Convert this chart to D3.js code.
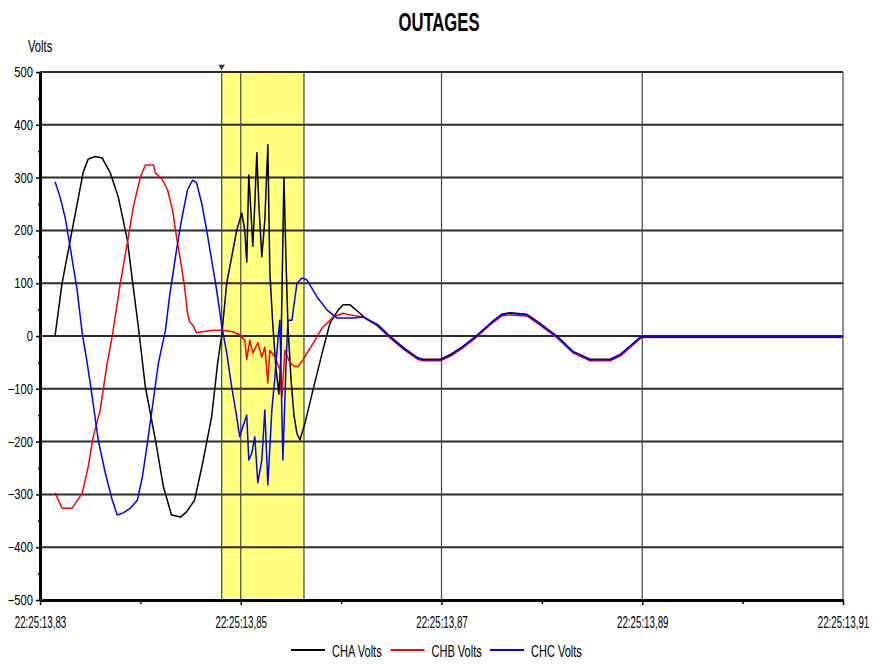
<!DOCTYPE html>
<html>
<head>
<meta charset="utf-8">
<script src="https://cdn.jsdelivr.net/npm/d3@7"></script>
<style>
  body { margin: 0; background: #fff; }
  text { font-family: "Liberation Sans", Arial, sans-serif; fill: #000; }
</style>
</head>
<body>
<script>
// time in ms after 22:25:13,83
const xTicks = [0, 20, 40, 60, 80];
const xMinorTicks = [10, 30, 50, 70];
const xTickLabels = ["22:25:13,83", "22:25:13,85", "22:25:13,87", "22:25:13,89", "22:25:13,91"];
const yTicks = [-500, -400, -300, -200, -100, 0, 100, 200, 300, 400, 500];
const yMinorTicks = [-450, -350, -250, -150, -50, 50, 150, 250, 350, 450];

const seriesNames = ["CHA Volts", "CHB Volts", "CHC Volts"];
const seriesColors = ["#000000", "#ff0000", "#0000ff"];

// outage window (yellow band) and marker
const bandStart = 18.1;
const bandEnd = 26.3;

const chaTime = [1.5, 2.2, 3.2, 4.3, 4.8, 5.5, 6.2, 7.0, 7.8, 8.7, 9.2, 9.8, 10.5, 11.5, 12.3, 13.1, 14.0, 14.6, 15.4, 16.2,
  17.1, 17.7, 18.1, 18.6, 19.1, 19.6, 20.1, 20.4, 20.6, 20.8, 21.0, 21.2, 21.4, 21.6, 21.8, 22.1, 22.4, 22.7, 22.9, 23.2,
  23.5, 23.8, 24.0, 24.3, 24.5, 24.7, 25.0, 25.3, 25.6, 25.9, 26.4, 27.2, 28.1, 28.9, 29.7, 30.2, 30.9, 31.7, 32.4];
const chaVolts = [0, 100, 200, 310, 335, 340, 337, 309, 263, 182, 106, 17, -97, -197, -286, -339, -343, -333, -311, -241,
  -153, -51, 0, 100, 150, 200, 233, 200, 140, 305, 240, 170, 250, 347, 250, 150, 220, 362, 120, 20,
  -60, -110, -40, 300, 150, 20, -80, -150, -185, -197, -165, -102, -33, 25, 49, 59, 59, 46, 34];

const chbTime = [1.5, 2.2, 3.2, 4.2, 4.8, 5.3, 6.0, 6.7, 7.2, 8.0, 8.7, 9.3, 10.0, 10.5, 11.3, 11.5, 12.2, 12.7, 13.2, 13.6,
  14.1, 14.4, 14.7, 14.9, 15.2, 15.6, 16.2, 17.2, 18.2, 19.2, 19.9, 20.4, 20.6, 20.9, 21.2, 21.7, 22.1, 22.4, 22.7, 22.9,
  23.4, 23.9, 24.1, 24.4, 24.9, 25.4, 25.7, 26.2, 27.2, 28.1, 29.2, 30.2, 30.9, 32.2];
const chbVolts = [-297, -326, -326, -298, -248, -191, -140, -51, 0, 100, 176, 245, 301, 324, 324, 309, 296, 277, 239, 188,
  131, 93, 43, 27, 21, 6, 8, 11, 11, 8, 2, -8, -45, -8, -32, -13, -40, -21, -89, -27,
  -40, -64, -115, -27, -51, -58, -58, -45, -14, 15, 36, 43, 40, 36];

const chcTime = [1.5, 2.0, 2.5, 3.0, 3.7, 4.2, 4.7, 5.2, 5.8, 6.5, 7.2, 7.7, 8.3, 9.0, 9.7, 10.2, 10.7, 11.2, 11.8, 12.5,
  12.9, 13.6, 14.1, 14.7, 15.2, 15.6, 16.1, 16.6, 17.1, 17.6, 18.1, 18.6, 19.1, 19.6, 19.9, 20.2, 20.6, 20.8, 21.1, 21.4,
  21.7, 22.1, 22.4, 22.7, 23.1, 23.4, 23.7, 23.9, 24.2, 24.5, 24.7, 25.1, 25.6, 26.1, 26.6, 27.6, 28.6, 29.6, 30.6, 31.2, 32.2];
const chcVolts = [292, 263, 225, 169, 87, 6, -51, -115, -197, -259, -311, -339, -335, -326, -311, -267, -203, -134, -51, 11,
  74, 163, 220, 277, 295, 290, 252, 201, 144, 87, 20, -32, -97, -153, -191, -172, -150, -235, -222, -191,
  -278, -235, -140, -282, -140, -78, -8, 30, -235, -60, 30, 30, 100, 110, 106, 74, 49, 34, 34, 34, 36];

// decaying ringing after the outage, then flat
const tailTime = [33.6, 34.9, 36.2, 37.6, 38.2, 39.9, 40.9, 42.1, 43.5, 45.1, 46.0, 46.8, 48.5, 49.5, 51.5, 53.1, 54.8, 56.8, 57.8, 59.8, 60.0, 80.0];
const chaTail = [22, -1, -22, -41, -44, -44, -35, -20, 1, 28, 41, 44, 41, 28, 0, -29, -44, -44, -35, -2, -2, -2];
const chbTail = [19, -4, -25, -44, -47, -47, -38, -23, -2, 25, 38, 40, 38, 25, -3, -32, -47, -47, -38, -5, -3, -3];
const chcTail = [21, -2, -23, -42, -45, -45, -36, -21, 0, 27, 40, 43, 40, 27, -1, -30, -45, -45, -36, -3, -2, -2];

const W = 873, H = 664;
const plotLeft = 40, plotRight = 843, plotTop = 72, plotBottom = 600;

const svg = d3.select("body").append("svg").attr("width", W).attr("height", H);

const x = d3.scaleLinear().domain([0, 80]).range([plotLeft, plotRight]);
const y = d3.scaleLinear().domain([-500, 500]).range([plotBottom, plotTop]);

function toPoints(t, v) {
  return t.map((d, i) => ({ t: d, v: v[i] }));
}
const series = [
  toPoints(chaTime.concat(tailTime), chaVolts.concat(chaTail)),
  toPoints(chbTime.concat(tailTime), chbVolts.concat(chbTail)),
  toPoints(chcTime.concat(tailTime), chcVolts.concat(chcTail)),
];

// yellow band
svg.append("rect")
  .attr("x", x(bandStart))
  .attr("y", plotTop)
  .attr("width", x(bandEnd) - x(bandStart))
  .attr("height", plotBottom - plotTop)
  .attr("fill", "#ffff80");

// grid
svg.append("g")
  .selectAll("line")
  .data(yTicks.filter((d) => d > -500))
  .enter()
  .append("line")
  .attr("x1", plotLeft)
  .attr("x2", plotRight)
  .attr("y1", (d) => y(d))
  .attr("y2", (d) => y(d))
  .attr("stroke", "#2a2a2a")
  .attr("stroke-width", 2);

svg.append("g")
  .selectAll("line")
  .data(xTicks.filter((d) => d > 0).concat([bandStart, bandEnd]))
  .enter()
  .append("line")
  .attr("x1", (d) => x(d))
  .attr("x2", (d) => x(d))
  .attr("y1", plotTop)
  .attr("y2", plotBottom)
  .attr("stroke", "#444")
  .attr("stroke-width", 1.2);

// marker
svg.append("path")
  .attr("d", d3.symbol(d3.symbolTriangle, 18)())
  .attr("transform", `translate(${x(bandStart)},66.5) rotate(180)`)
  .attr("fill", "#333");

// curves
const line = d3.line().x((d) => x(d.t)).y((d) => y(d.v));
svg.append("g")
  .selectAll("path")
  .data(series)
  .enter()
  .append("path")
  .attr("d", line)
  .attr("fill", "none")
  .attr("stroke", (d, i) => seriesColors[i])
  .attr("stroke-width", 1.5)
  .attr("stroke-linejoin", "round");

// axes
const yAxis = svg.append("g")
  .attr("transform", `translate(${plotLeft},0)`)
  .call(d3.axisLeft(y).tickValues(yTicks).tickSize(4).tickSizeOuter(0).tickPadding(3));
svg.append("g")
  .attr("transform", `translate(${plotLeft},0)`)
  .call(d3.axisLeft(y).tickValues(yMinorTicks).tickSize(2).tickSizeOuter(0).tickFormat(""))
  .select(".domain").remove();
// narrow the labels, keep their right edge at the same spot
yAxis.selectAll("text")
  .attr("font-size", "14px")
  .attr("x", 0)
  .attr("transform", "translate(-7,0) scale(0.8,1)");

const xAxis = svg.append("g")
  .attr("transform", `translate(0,${plotBottom})`)
  .call(d3.axisBottom(x).tickValues(xTicks).tickSize(5).tickSizeOuter(0).tickPadding(12)
    .tickFormat((d, i) => xTickLabels[i]));
svg.append("g")
  .attr("transform", `translate(0,${plotBottom})`)
  .call(d3.axisBottom(x).tickValues(xMinorTicks).tickSize(4).tickSizeOuter(0).tickFormat(""))
  .select(".domain").remove();
xAxis.selectAll("text").attr("font-size", "16px").attr("transform", "scale(0.61,1)");

svg.selectAll(".domain").attr("stroke", "#000").attr("stroke-width", 3);
svg.selectAll(".tick line").attr("stroke", "#000").attr("stroke-width", 1.5);
svg.selectAll(".tick text").attr("font-family", null).attr("fill", "#000");

// title and unit
svg.append("text")
  .attr("transform", "translate(439,31) scale(0.64,1)")
  .attr("text-anchor", "middle")
  .attr("font-size", "26px")
  .attr("font-weight", "bold")
  .text("OUTAGES");

svg.append("text")
  .attr("transform", "translate(28,52) scale(0.7,1)")
  .attr("font-size", "16px")
  .text("Volts");

// legend
const legend = svg.append("g")
  .selectAll("g")
  .data(seriesNames)
  .enter()
  .append("g")
  .attr("transform", (d, i) => `translate(${291 + i * 99.5},650)`);
legend.append("line")
  .attr("x1", 0)
  .attr("x2", 34)
  .attr("stroke", (d, i) => seriesColors[i])
  .attr("stroke-width", 2);
legend.append("text")
  .attr("transform", "translate(41,6.5) scale(0.69,1)")
  .attr("font-size", "16px")
  .text((d) => d);
</script>
</body>
</html>
